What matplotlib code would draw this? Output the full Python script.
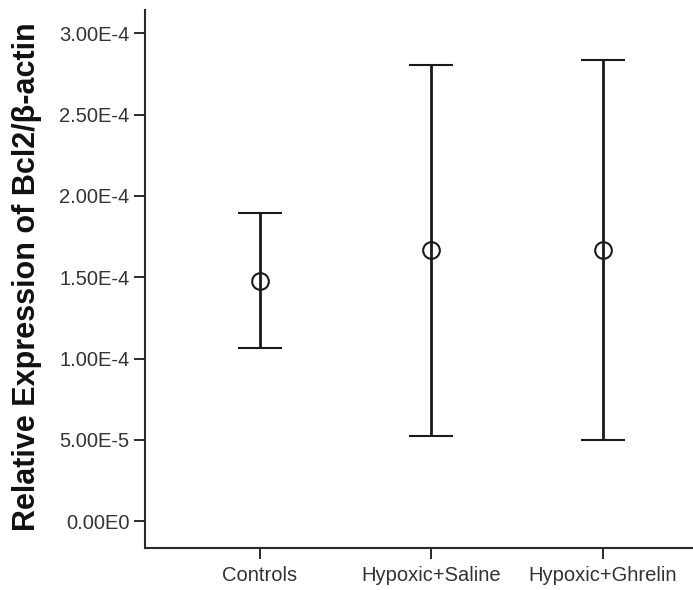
import matplotlib.pyplot as plt
import numpy as np

groups = ['Controls', 'Hypoxic+Saline', 'Hypoxic+Ghrelin']
means = [1.476e-4, 1.667e-4, 1.667e-4]
lower = [1.064e-4, 0.523e-4, 0.498e-4]
upper = [1.894e-4, 2.804e-4, 2.835e-4]

yticks = [0, 5e-5, 1e-4, 1.5e-4, 2e-4, 2.5e-4, 3e-4]
ytick_labels = ['0.00E0', '5.00E-5', '1.00E-4', '1.50E-4', '2.00E-4', '2.50E-4', '3.00E-4']

plt.rcParams['font.family'] = ['Liberation Sans', 'DejaVu Sans']

x = np.arange(len(groups))
means = np.array(means)
err = [means - np.array(lower), np.array(upper) - means]

fig = plt.figure(figsize=(6.93, 5.90), dpi=100)
ax = fig.add_axes([0.209, 0.071, 0.791, 0.912])

ax.errorbar(x, means, yerr=err, fmt='o', color='#1a1a1a', ecolor='#1a1a1a',
            elinewidth=2.0, capsize=16, capthick=2.0,
            markersize=12, markerfacecolor='none', markeredgewidth=1.5)

ax.set_xlim(-0.67, 2.525)
ax.set_ylim(-1.66e-5, 3.143e-4)
ax.set_xticks(x)
ax.set_xticklabels(groups, fontsize=14.5, color='#333333')
ax.set_yticks(yticks)
ax.set_yticklabels(ytick_labels, fontsize=14.5, color='#333333')
ax.tick_params(axis='y', length=8, width=1.4, color='#2a2a2a', pad=3)
ax.tick_params(axis='x', length=8, width=1.4, color='#2a2a2a', pad=5)

ax.spines['top'].set_visible(False)
ax.spines['right'].set_visible(False)
for s in ['left', 'bottom']:
    ax.spines[s].set_linewidth(1.5)
    ax.spines[s].set_color('#2a2a2a')

fig.text(27 / 693, 1 - 277 / 590, 'Relative Expression of Bcl2/β-actin',
         rotation=90, ha='center', va='center', fontsize=22, fontweight='bold',
         color='#111111')

fig.savefig('out.png', dpi=100)
